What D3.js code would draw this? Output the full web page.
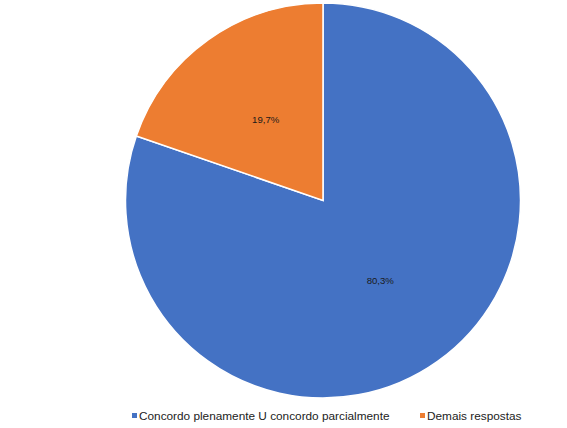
<!DOCTYPE html>
<html>
<head>
<meta charset="utf-8">
<script src="https://cdn.jsdelivr.net/npm/d3@7"></script>
<style>
  body { margin: 0; background: #fff; }
  svg { display: block; font-family: "Liberation Sans", Arial, sans-serif; }
</style>
</head>
<body>
<div id="chart"></div>
<script>
var categories = ["Concordo plenamente U concordo parcialmente", "Demais respostas"];
var values = [80.3, 19.7];
var colors = ["#4472C4", "#ED7D31"];

var width = 567, height = 428;
var cx = 323, cy = 200.5, radius = 197.5;

var fmt = function (v) { return v.toFixed(1).replace(".", ",") + "%"; };

var svg = d3.select("#chart").append("svg")
  .attr("width", width)
  .attr("height", height);

var pie = d3.pie().sort(null).value(function (d) { return d; });
var arc = d3.arc().innerRadius(0).outerRadius(radius);
var labelArc = d3.arc().innerRadius(radius * 0.5).outerRadius(radius * 0.5);

var g = svg.append("g").attr("transform", "translate(" + cx + "," + cy + ")");

var slices = g.selectAll("g.slice")
  .data(pie(values))
  .enter().append("g")
  .attr("class", "slice");

slices.append("path")
  .attr("d", arc)
  .attr("fill", function (d, i) { return colors[i]; })
  .attr("stroke", "#fff")
  .attr("stroke-width", 1.5);

slices.append("text")
  .attr("transform", function (d) { return "translate(" + labelArc.centroid(d) + ")"; })
  .attr("text-anchor", "middle")
  .attr("dy", "0.35em")
  .attr("font-size", 9.6)
  .attr("fill", "#1a1a1a")
  .text(function (d) { return fmt(d.data); });

// legend
var legendX = [132, 420];
var legend = svg.selectAll("g.legend")
  .data(categories)
  .enter().append("g")
  .attr("class", "legend")
  .attr("transform", function (d, i) { return "translate(" + legendX[i] + ",416)"; });

legend.append("rect")
  .attr("x", 0).attr("y", -3)
  .attr("width", 5).attr("height", 5)
  .attr("fill", function (d, i) { return colors[i]; });

legend.append("text")
  .attr("x", 7)
  .attr("dy", "0.35em")
  .attr("font-size", 11.8)
  .attr("fill", "#222")
  .text(function (d) { return d; });
</script>
</body>
</html>
